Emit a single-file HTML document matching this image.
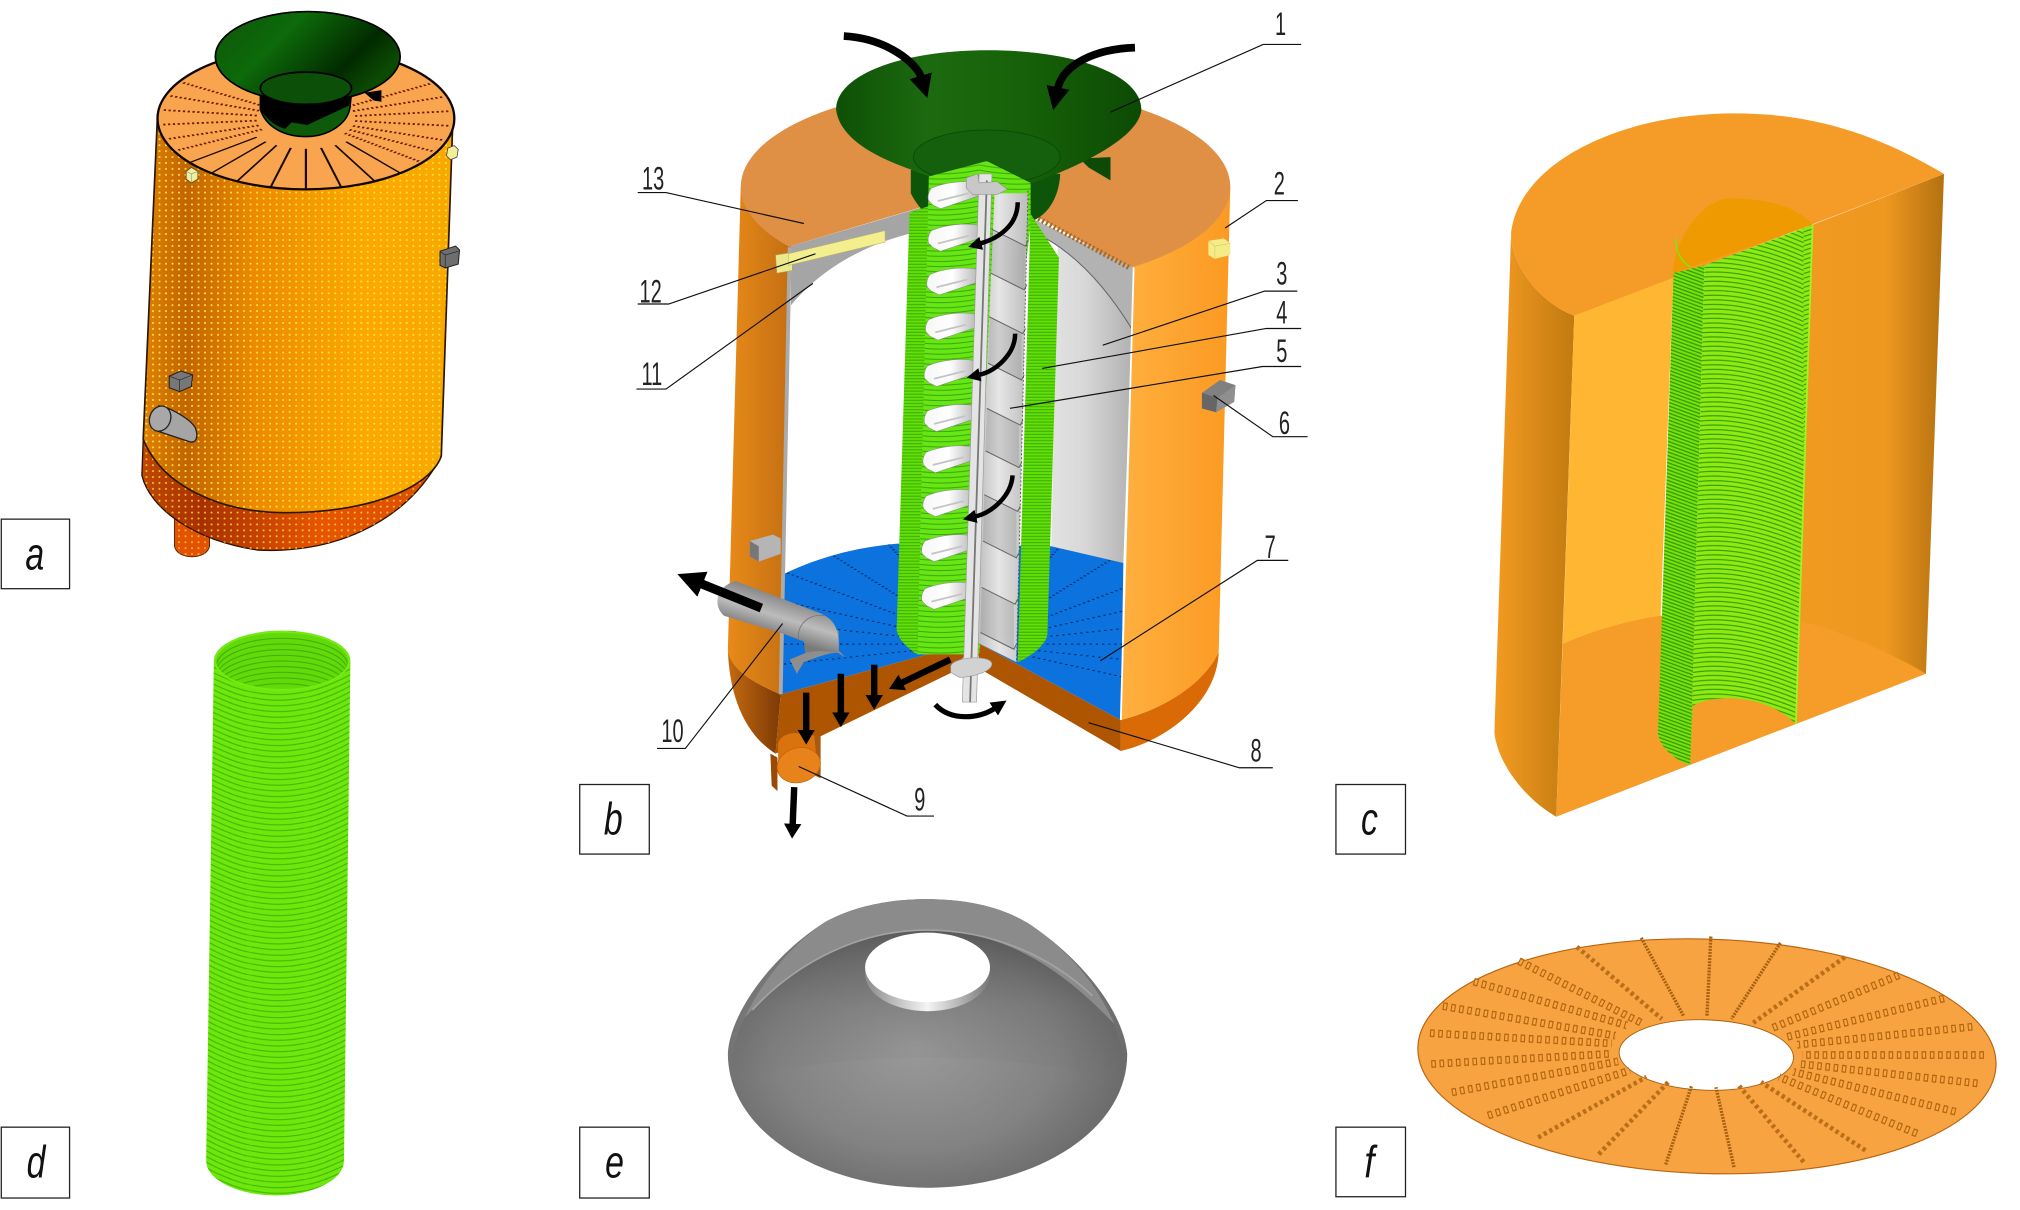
<!DOCTYPE html>
<html><head><meta charset="utf-8"><title>Diagram</title>
<style>html,body{margin:0;padding:0;background:#fff}svg{display:block}
.n{font-family:"Liberation Sans",sans-serif;font-size:25px;fill:#222;text-anchor:middle}
.l{font-family:"Liberation Sans",sans-serif;font-style:italic;font-size:35px;fill:#111;text-anchor:middle}
.ld{fill:none;stroke:#111;stroke-width:.9}
.box{fill:#fff;stroke:#222;stroke-width:1}
</style></head><body>
<svg xmlns="http://www.w3.org/2000/svg" width="2020" height="1210" viewBox="0 0 1568 939.3" preserveAspectRatio="none">
<defs>
<marker id="ah" markerWidth="3" markerHeight="3" refX="0.2" refY="1.5" orient="auto" viewBox="0 0 3 3"><path d="M0,0L3,1.5L0,3Z" fill="#000"/></marker>
<marker id="ah2" markerWidth="2.3" markerHeight="2.7" refX="0.1" refY="1.35" orient="auto" viewBox="0 0 2.3 2.7"><path d="M0,0L2.3,1.35L0,2.7Z" fill="#000"/></marker>
<pattern id="dots" width="5" height="4.6" patternUnits="userSpaceOnUse"><circle cx="2.5" cy="2.3" r=".8" fill="#ffe63a"/></pattern>
<linearGradient id="abody"><stop offset="0" stop-color="#e08204"/><stop offset=".14" stop-color="#c26400"/><stop offset=".36" stop-color="#ec8a00"/><stop offset=".72" stop-color="#fda800"/><stop offset="1" stop-color="#f8a800"/></linearGradient>
<linearGradient id="aband"><stop offset="0" stop-color="#c04800"/><stop offset=".2" stop-color="#a83000"/><stop offset=".6" stop-color="#e85500"/><stop offset="1" stop-color="#d84e00"/></linearGradient>
<linearGradient id="hop"><stop offset="0" stop-color="#0e5006"/><stop offset=".3" stop-color="#1c6a10"/><stop offset=".6" stop-color="#176209"/><stop offset="1" stop-color="#0c4a04"/></linearGradient>
<linearGradient id="hopa" x1="0" y1="0" x2="1" y2=".5"><stop offset="0" stop-color="#0d5508"/><stop offset=".4" stop-color="#0d6a0a"/><stop offset=".8" stop-color="#022a00"/><stop offset="1" stop-color="#0c4a04"/></linearGradient>
<linearGradient id="lw"><stop offset="0" stop-color="#e88a18"/><stop offset="1" stop-color="#a85a10"/></linearGradient>
<linearGradient id="lb"><stop offset="0" stop-color="#c56a10"/><stop offset="1" stop-color="#7c3a05"/></linearGradient>
<linearGradient id="rw"><stop offset="0" stop-color="#ffb040"/><stop offset="1" stop-color="#fb9a22"/></linearGradient>
<linearGradient id="grey"><stop offset="0" stop-color="#e2e2e2"/><stop offset=".4" stop-color="#d8d8d8"/><stop offset="1" stop-color="#b0b0b0"/></linearGradient>
<linearGradient id="blade"><stop offset="0" stop-color="#b8b8b8"/><stop offset=".45" stop-color="#e6e6e6"/><stop offset="1" stop-color="#bcbcbc"/></linearGradient>
<linearGradient id="pipe" gradientUnits="userSpaceOnUse" x1="600" y1="458" x2="590" y2="490"><stop offset="0" stop-color="#7e7e7e"/><stop offset=".55" stop-color="#bcbcbc"/><stop offset="1" stop-color="#7a7a7a"/></linearGradient>
<linearGradient id="pet"><stop offset="0" stop-color="#f6f6f6"/><stop offset=".5" stop-color="#fff"/><stop offset="1" stop-color="#b8b8b8"/></linearGradient>
<linearGradient id="cl"><stop offset="0" stop-color="#f39b22"/><stop offset="1" stop-color="#c27a0f"/></linearGradient>
<linearGradient id="cr"><stop offset="0" stop-color="#f19a20"/><stop offset=".6" stop-color="#ee9820"/><stop offset="1" stop-color="#b57110"/></linearGradient>
<linearGradient id="rim"><stop offset="0" stop-color="#8a8a8a"/><stop offset=".5" stop-color="#f5f5f5"/><stop offset="1" stop-color="#777"/></linearGradient>
<radialGradient id="dome" cx=".47" cy=".52" r=".64"><stop offset="0" stop-color="#999"/><stop offset=".55" stop-color="#828282"/><stop offset="1" stop-color="#5e5e5e"/></radialGradient>
<linearGradient id="domet" x1="0" y1="0" x2="0" y2="1"><stop offset="0" stop-color="#000" stop-opacity=".26"/><stop offset=".5" stop-color="#000" stop-opacity=".08"/><stop offset="1" stop-color="#000" stop-opacity="0"/></linearGradient>
<pattern id="gs" width="60" height="4" patternUnits="userSpaceOnUse" x="700"><rect width="60" height="4" fill="#66e612"/><path d="M0,-4Q30,2 60,-4M0,0Q30,6 60,0M0,4Q30,10 60,4" fill="none" stroke="#3aa20a" stroke-width=".7"/></pattern>
<pattern id="gd" width="20" height="2.4" patternUnits="userSpaceOnUse"><rect width="20" height="2.4" fill="#62e008"/><path d="M0,1.2H20" stroke="#3fb000" stroke-width=".8"/></pattern>
<pattern id="cs" width="100" height="3.6" patternUnits="userSpaceOnUse" x="1300"><rect width="100" height="3.6" fill="#8eea12"/><path d="M0,-10.8q40,-14 100,12M0,-7.2q40,-14 100,12M0,-3.6q40,-14 100,12M0,0q40,-14 100,12M0,3.6q40,-14 100,12M0,7.2q40,-14 100,12M0,10.8q40,-14 100,12M0,14.4q40,-14 100,12" fill="none" stroke="#339e00" stroke-width=".9"/></pattern>
<pattern id="cd" width="30" height="2.6" patternUnits="userSpaceOnUse" patternTransform="rotate(20)"><rect width="30" height="2.6" fill="#78e20a"/><path d="M0,1.3H30" stroke="#2f9400" stroke-width="1"/></pattern>
<pattern id="ds" width="112" height="4.4" patternUnits="userSpaceOnUse" x="160"><rect width="112" height="4.4" fill="#6ee80c"/><path d="M0,-17.6Q56,14 112,-17.6M0,-13.2Q56,18 112,-13.2M0,-8.8Q56,23 112,-8.8M0,-4.4Q56,27 112,-4.4M0,0Q56,32 112,0M0,4.4Q56,36 112,4.4" fill="none" stroke="#46b802" stroke-width=".9"/></pattern>
<clipPath id="floor"><path d="M606,539L607.5,446C630,435,660,425,697,422L816,424C840,426,860,432,872,437L870,559L757,498Z"/></clipPath>
<clipPath id="dtop"><ellipse cx="219" cy="513" rx="51" ry="21.5"/></clipPath>
<clipPath id="disc"><path d="M500,0H1000V300L880,210L765,146L614,191L500,300Z"/></clipPath>
<g id="petal"><path d="M760,-11C750,-13,735,-12,723,-7C720,-3,720,1,721,3L724,6L730,9L760,-1Z" fill="url(#pet)" stroke="#8a8a8a" stroke-width=".4"/><path d="M728,3L752,-3" stroke="#c4c4c4" stroke-width="1.4"/></g>
<g id="fch">
<path d="M1474,757L1376,798"/><path d="M1509,775L1387,805"/><path d="M1531,797L1395,811"/><path d="M1540,819L1399,819"/><path d="M1535,841L1398,826"/><path d="M1518,863L1392,832"/><path d="M1488,880L1381,836"/>
<path d="M1155,866L1265,831"/><path d="M1127,848L1256,824"/><path d="M1111,826L1251,818"/><path d="M1110,802L1251,810"/><path d="M1120,781L1254,804"/><path d="M1144,762L1263,796"/><path d="M1179,746L1274,794"/>
</g>
</defs>
<rect width="1568" height="939.3" fill="#fff"/>

<!-- PANEL A -->
<g transform="scale(1.0105,1)">
<path d="M134,402L134,424C136,435,159,435,161,424L161,410Z" fill="#e25200" stroke="#3a1500" stroke-width=".6"/>
<path d="M134,402L134,424C136,435,159,435,161,424L161,410Z" fill="url(#dots)" opacity=".7"/>
<path d="M109,369C115,395,150,420,198,427C250,430,310,410,339,354L320,340L110,341Z" fill="url(#aband)" stroke="#2a1000" stroke-width="1"/>
<path d="M109,369C115,395,150,420,198,427C250,430,310,410,339,354L320,340L110,341Z" fill="url(#dots)" opacity=".8"/>
<path d="M121,89L110,341C125,378,170,398,220,398C280,398,330,380,339,354L348,89Z" fill="url(#abody)"/>
<path d="M121,89L110,341C125,378,170,398,220,398C280,398,330,380,339,354L348,89Z" fill="url(#dots)"/>
<path d="M121,89L110,341M348,89L339,354M110,341C125,378,170,398,220,398C280,398,330,380,339,354" fill="none" stroke="#2b1600" stroke-width="1.3"/>
<ellipse cx="235" cy="92" rx="114" ry="55" fill="#f9a550" stroke="#0f0800" stroke-width="1.8"/>
<g transform="translate(235,92) scale(1,.49)" fill="none">
<g stroke="#1a0a00" stroke-width="1.7">
<line x1="48" x2="112" transform="rotate(90)"/><line x1="48" x2="112" transform="rotate(76)"/><line x1="48" x2="112" transform="rotate(62)"/><line x1="48" x2="112" transform="rotate(50)"/><line x1="48" x2="112" transform="rotate(104)"/><line x1="48" x2="112" transform="rotate(118)"/><line x1="48" x2="112" transform="rotate(130)"/><line x1="48" x2="112" transform="rotate(142)"/>
</g>
<g stroke="#6a1a00" stroke-width="2.8" stroke-dasharray="1.7 2">
<line x1="38" x2="112" transform="rotate(38)"/><line x1="38" x2="112" transform="rotate(28)"/><line x1="38" x2="112" transform="rotate(18)"/><line x1="38" x2="112" transform="rotate(6)"/><line x1="38" x2="112" transform="rotate(-6)"/><line x1="38" x2="112" transform="rotate(-18)"/><line x1="38" x2="112" transform="rotate(-30)"/>
<line x1="38" x2="112" transform="rotate(153)"/><line x1="38" x2="112" transform="rotate(163)"/><line x1="38" x2="112" transform="rotate(175)"/><line x1="38" x2="112" transform="rotate(187)"/><line x1="38" x2="112" transform="rotate(199)"/><line x1="38" x2="112" transform="rotate(211)"/>
</g></g>
<path d="M200,72L200,85C205,100,220,106,235,106C252,106,268,96,269,82L270,72Z" fill="#0f5a0a" stroke="#000" stroke-width="1.2"/>
<path d="M200,72L200,85C205,93,212,98,219,100L224,95L236,97L268,82L270,72Z" fill="#000"/>
<path d="M280,72L293,70L293,79L287,78Z" fill="#000"/>
<ellipse cx="236.4" cy="44" rx="71" ry="35" fill="url(#hopa)" stroke="#000" stroke-width="1.3"/>
<ellipse cx="235" cy="68.5" rx="35" ry="12.5" fill="#0c4f08" stroke="#000" stroke-width="1.3"/>
<path d="M143,133L147,130L152,133L152,139L147,142L143,139Z" fill="#f1ef9a" stroke="#444" stroke-width=".6"/>
<path d="M143,133L147,135L152,133M147,135V142" fill="none" stroke="#888" stroke-width=".4"/>
<path d="M344,115L349,113L352,116L351,122L346,124L343,121Z" fill="#f1ef9a" stroke="#444" stroke-width=".6"/>
<path d="M338,195L350,191L353,194L352,205L342,208L338,206Z" fill="#6e6e6e" stroke="#222" stroke-width=".8"/>
<path d="M338,195L342,198L352,195M342,198V208" fill="none" stroke="#222" stroke-width=".5"/>
<path d="M130,292L139,288L148,291L147,300L138,304L130,301Z" fill="#777" stroke="#222" stroke-width=".8"/>
<path d="M130,292L138,295L148,291M138,295V304" fill="none" stroke="#222" stroke-width=".5"/>
<path d="M122,315C130,316,146,325,150,332C153,340,150,344,146,343L122,335Z" fill="#a5a5a5" stroke="#222"/>
<ellipse cx="123" cy="325" rx="8" ry="10" transform="rotate(20 123 325)" fill="#a8a8a8" stroke="#222"/>
</g>
<rect class="box" x="1" y="403" width="53" height="54"/>
<text class="l" transform="translate(27,442) scale(.75,1)">a</text>

<!-- PANEL B -->
<path d="M565,504C566,540,578,570,602,585L606,539C585,530,567,520,565,504Z" fill="url(#lb)"/>
<path d="M575,145L650,145L614,191L606,539C585,530,567,520,565,504Z" fill="url(#lw)"/>
<path d="M946,506C945,545,905,575,870,583L870,559C905,550,935,530,946,506Z" fill="#d96a05"/>
<path d="M880,208L900,145L955,145L946,506C935,530,905,550,870,559Z" fill="url(#rw)"/>
<ellipse cx="765" cy="145" rx="190" ry="78" fill="#e09045" clip-path="url(#disc)"/>
<path d="M606,539L607.5,446C630,435,660,425,697,422L816,424C840,426,860,432,872,437L870,559L757,498Z" fill="#0c72de"/>
<g clip-path="url(#floor)"><g transform="translate(757,500) scale(1,.42)" stroke="#06306e" stroke-width="2.2" stroke-dasharray="1.8 3" fill="none">
<line x1="12" x2="200" transform="rotate(0)"/><line x1="12" x2="200" transform="rotate(14)"/><line x1="12" x2="200" transform="rotate(28)"/><line x1="12" x2="200" transform="rotate(-14)"/><line x1="12" x2="200" transform="rotate(-28)"/><line x1="12" x2="200" transform="rotate(-42)"/><line x1="12" x2="200" transform="rotate(-56)"/><line x1="12" x2="200" transform="rotate(-70)"/><line x1="12" x2="200" transform="rotate(-110)"/><line x1="12" x2="200" transform="rotate(-124)"/><line x1="12" x2="200" transform="rotate(-138)"/><line x1="12" x2="200" transform="rotate(-152)"/><line x1="12" x2="200" transform="rotate(-166)"/><line x1="12" x2="200" transform="rotate(180)"/><line x1="12" x2="200" transform="rotate(166)"/>
</g></g>
<path d="M821,190L880,208L872,437L816,424Z" fill="url(#grey)"/>
<path d="M802,170L880,208L879,256C860,225,835,195,802,180Z" fill="#b2b2b2"/>
<path d="M802,180C835,195,860,225,879,256" fill="none" stroke="#666" stroke-width=".8"/>
<path d="M803,168L877,208" stroke="#a86a28" stroke-width="4" stroke-dasharray="1.6 1.8"/>
<path d="M880,208L870,559" stroke="#fff" stroke-width="1.4"/>
<path d="M614,191L719,160L717,179C680,186,640,205,614,237Z" fill="#a5a5a5"/>
<path d="M613,192L606,539" stroke="#aaa" stroke-width="3"/>
<path d="M602,198L615,196L615,210L603,212Z" fill="#ece88c" stroke="#a9a360" stroke-width=".4"/>
<path d="M612,197L687,179L687,188L612,206Z" fill="#f3ee8e" stroke="#b9b36a" stroke-width=".4"/>
<path d="M606,539L757,498L739,522L636,572L602,585Z" fill="#ad5500"/>
<path d="M757,498L870,559L870,583L762,520Z" fill="#ad5500"/>

<!-- cubes -->
<path d="M938,187L950,185L955,189L955,198L943,201L938,198Z" fill="#f3ec88"/>
<path d="M943,191L955,189M943,191V201M943,191L938,187" fill="none" stroke="#d4cc60" stroke-width=".5"/>
<path d="M933,305L947,295L959,299L958,312L944,320L933,317Z" fill="#808080"/>
<path d="M933,305L945,309L944,320L933,317Z" fill="#666"/>
<path d="M945,309L959,299L958,312L944,320Z" fill="#8f8f8f"/>

<!-- hopper b -->
<path d="M838,123L862,122L862,140L845,130Z" fill="#0c4a06"/>
<path d="M707,132L707,150C712,160,718,166,726,172L800,172C812,168,822,155,823,135Z" fill="#0d5508"/>
<path d="M649,85C649,58,700,39,767,39C835,39,886,58,886,85C884,108,835,130,802,142C770,146,730,142,708,132C680,122,652,108,649,85Z" fill="url(#hop)"/>
<ellipse cx="766" cy="122" rx="57" ry="21" fill="#14600c" stroke="#0c4a06" stroke-width=".7"/>

<!-- central tube -->
<path d="M706,165L721,160L712,508C704,503,696,495,696,488Z" fill="url(#gd)"/>
<path d="M721,137L766,125L800,142L800,175L760,508L712,508Z" fill="url(#gs)"/>
<path d="M800,166L822,200L813,493C812,500,800,510,790,514Z" fill="url(#gd)"/>
<path d="M772,150L798,150L789,514L757,498Z" fill="url(#blade)"/>
<g fill="#000" opacity=".1">
<path d="M770,178L796,191L795,225L769,212Z"/><path d="M768,246L793,259L793,295L767,282Z"/><path d="M766,317L791,330L791,363L765,350Z"/><path d="M764,384L789,397L789,433L763,420Z"/><path d="M762,456L787,469L787,504L761,491Z"/>
</g>
<g fill="none" stroke="#666" stroke-width=".8">
<path d="M770,178L796,191L798,187M769,212L795,225L797,221M768,246L794,259L796,255M767,282L793,295L795,291M766,317L792,330L794,326M765,350L791,363L793,359M764,384L790,397L792,393M763,420L789,433L791,429M762,456L788,469L790,465M761,491L787,504L789,500"/>
</g>
<path d="M798,148L789,514" stroke="#555" stroke-width=".7" stroke-dasharray="1.5 1.5"/>
<use href="#petal" transform="translate(0,153)"/><use href="#petal" transform="translate(0,186)"/><use href="#petal" transform="translate(-1,220)"/><use href="#petal" transform="translate(-2,255)"/><use href="#petal" transform="translate(-3,291)"/><use href="#petal" transform="translate(-3,326)"/><use href="#petal" transform="translate(-4,358)"/><use href="#petal" transform="translate(-4,392)"/><use href="#petal" transform="translate(-5,427)"/><use href="#petal" transform="translate(-5,464)"/>
<path d="M760,135L770,135L758,545L747,545Z" fill="#e4e4e4" stroke="#999" stroke-width=".5"/>
<path d="M766,140L753,545" stroke="#777" stroke-width="1.4"/>
<path d="M750,138L759,135L760,142L774,141L782,147L774,151L755,151L750,146Z" fill="#c8c8c8" stroke="#888" stroke-width=".4"/>
<path d="M738,517C740,510,768,508,770,515C770,522,755,525,745,526L738,522Z" fill="#d2d2d2" stroke="#999" stroke-width=".5"/>

<!-- bottom pipe -->
<path d="M598,585L603.5,588L603.5,614L599,610Z" fill="#9a4a05"/>
<path d="M630,571L637,571L637,604L630,601Z" fill="#a85a10"/>
<path d="M604,598L604,577C606,571,612,569,618,569L632,571L634,590L612,606Z" fill="#d9730e"/>
<ellipse cx="620" cy="594" rx="17" ry="13.5" transform="rotate(-15 620 594)" fill="#e8821a" stroke="#bb6008" stroke-width=".5"/>
<!-- grey cube -->
<path d="M582,420L600,415L606,418L606,430L589,436L582,432Z" fill="#b5b5b5"/>
<path d="M582,420L589,424L589,436L582,432Z" fill="#777"/>
<!-- pipe 10 -->
<path d="M625,498L625,507L613,512L618.5,523L624,514C635,510,645,506,651,507L657,511L651,505L651,489Z" fill="#8e8e8e"/>
<path d="M571,451L634,475C648,480,652,488,651,507C640,505,632,505,625,507L624,498L608,492L562,478C553,470,556,455,571,451Z" fill="url(#pipe)"/>
<path d="M620,497C618,485,628,476,640,478" fill="none" stroke="#777" stroke-width=".7"/>
<!-- arrows -->
<g fill="none" stroke="#000">
<path d="M655,28C690,30,712,50,715,60" stroke-width="6" marker-end="url(#ah)"/>
<path d="M881,37C850,38,825,50,821,69" stroke-width="6" marker-end="url(#ah)"/>
<path d="M790,157C790,175,775,185,761,189" stroke-width="3.5" marker-end="url(#ah)"/>
<path d="M788,259C788,275,773,288,760,291" stroke-width="3.5" marker-end="url(#ah)"/>
<path d="M786,369C785,385,770,398,757,401" stroke-width="3.5" marker-end="url(#ah)"/>
<path d="M625.8,537.7V567" stroke-width="5" marker-end="url(#ah2)"/>
<path d="M652.7,523V553.5" stroke-width="5" marker-end="url(#ah2)"/>
<path d="M678.6,516V540" stroke-width="5" marker-end="url(#ah2)"/>
<path d="M737.6,512L700,530" stroke-width="5" marker-end="url(#ah2)"/>
<path d="M616.5,611L615.3,640" stroke-width="5" marker-end="url(#ah2)"/>
<path d="M591,472L544,453" stroke-width="7" marker-end="url(#ah)"/>
<path d="M726,547C738,560,760,558,772,550" stroke-width="4" marker-end="url(#ah)"/>
</g>
<!-- leaders -->
<g class="ld">
<path class="ld" d="M1010,34.5H980.5L862,87"/><path class="ld" d="M1007.5,155.7H983L951,177"/>
<path class="ld" d="M1007,226H981.6L856,268"/><path class="ld" d="M1010,255H983L809,286"/>
<path class="ld" d="M1010,284.5H980L784,317"/><path class="ld" d="M1015,339H988L942,307"/>
<path class="ld" d="M1000,435H976L854,513"/><path class="ld" d="M988,596H962L845,561"/>
<path class="ld" d="M725,633.5H704L620,595"/><path class="ld" d="M510,581H532L607.5,484"/>
<path class="ld" d="M494,302H517L631,220"/><path class="ld" d="M495,236H519L633,197"/>
<path class="ld" d="M495,149.5H517L624,173.5"/>
</g>
<g class="numbers">
<text class="n" transform="translate(994,27) scale(.62,1)">1</text>
<text class="n" transform="translate(993,151) scale(.62,1)">2</text>
<text class="n" transform="translate(995,221) scale(.62,1)">3</text>
<text class="n" transform="translate(995,251) scale(.62,1)">4</text>
<text class="n" transform="translate(995,281) scale(.62,1)">5</text>
<text class="n" transform="translate(997,337) scale(.62,1)">6</text>
<text class="n" transform="translate(986,433) scale(.62,1)">7</text>
<text class="n" transform="translate(975,591) scale(.62,1)">8</text>
<text class="n" transform="translate(714,629) scale(.62,1)">9</text>
<text class="n" transform="translate(522,576) scale(.62,1)">10</text>
<text class="n" transform="translate(506,299) scale(.62,1)">11</text>
<text class="n" transform="translate(505,235) scale(.62,1)">12</text>
<text class="n" transform="translate(507,147) scale(.62,1)">13</text>
</g>
<rect class="box" x="450" y="609" width="54" height="54"/>
<text class="l" transform="translate(476,648) scale(.75,1)">b</text>

<!-- PANEL C -->
<path d="M1173,180L1160,569C1163,594,1185,621,1208,634L1222,245C1195,235,1172,205,1173,180Z" fill="url(#cl)"/>
<path d="M1407,174.5L1509,135L1495,523L1394,482L1394,562Z" fill="url(#cr)"/>
<path d="M1222,245L1299,212L1289,479L1213,500Z" fill="#ffb733"/>
<path d="M1213,500C1235,490,1262,482,1289,478L1397,482C1430,490,1470,508,1495,523L1208,634Z" fill="#f59d28"/>
<path d="M1222,245L1509,135C1450,100,1400,88,1346,88C1260,88,1180,125,1173,180C1172,205,1195,235,1222,245Z" fill="#f59c28"/>
<path d="M1299,212C1298,190,1320,154,1343,154C1370,154,1395,160,1407,174.5Z" fill="#ee9a00"/>
<path d="M1301,185C1300,195,1306,204,1312,207" fill="none" stroke="#7fe60e" stroke-width="1.2"/>
<path d="M1323,206L1407,174.5L1394,562C1380,548,1360,542,1343,542C1330,542,1320,544,1314,548L1312,594Z" fill="url(#cs)"/>
<path d="M1299,212L1323,206L1312,594C1300,590,1288,580,1287,569Z" fill="url(#cd)"/>
<path d="M1407,174.5L1394,562" stroke="#a4f020" stroke-width="1.4"/>
<rect class="box" x="1037" y="609" width="54" height="54"/>
<text class="l" transform="translate(1063,648) scale(.75,1)">c</text>

<!-- PANEL D -->
<path d="M166,513L160,901C160,916,185,928,214,928C243,928,267,916,267,901L272,513A53,23.5 0 0 0 166,513Z" fill="url(#ds)"/>
<ellipse cx="219" cy="513" rx="52" ry="22.5" fill="#62da0a" stroke="#74ea12" stroke-width="1.5"/>
<g clip-path="url(#dtop)" fill="none" stroke="#44b202" stroke-width=".9">
<ellipse cx="219" cy="517" rx="51" ry="21.5"/><ellipse cx="219" cy="521.4" rx="51" ry="21.5"/><ellipse cx="219" cy="525.8" rx="51" ry="21.5"/><ellipse cx="219" cy="530.2" rx="51" ry="21.5"/><ellipse cx="219" cy="534.6" rx="51" ry="21.5"/><ellipse cx="219" cy="539" rx="51" ry="21.5"/><ellipse cx="219" cy="543.4" rx="51" ry="21.5"/><ellipse cx="219" cy="547.8" rx="51" ry="21.5"/><ellipse cx="219" cy="552.2" rx="51" ry="21.5"/>
</g>
<rect class="box" x="1" y="875" width="53" height="55"/>
<text class="l" transform="translate(28,914) scale(.75,1)">d</text>

<!-- PANEL E -->
<path d="M565,818C566,790,595,745,640,716C665,702,695,698,719,698C745,698,775,702,800,718C840,745,872,785,875,818C875,880,800,922,719,922C640,922,565,880,565,818Z" fill="url(#dome)"/>
<path d="M578,790C620,745,670,722,719,722C770,722,815,742,865,795C872,815,875,830,868,840C800,815,640,815,572,840C565,830,568,810,578,790Z" fill="url(#domet)"/>
<path d="M578,790C592,762,612,735,640,716C665,702,695,698,719,698C745,698,775,702,800,718C825,735,850,760,865,795C815,742,770,722,719,722C670,722,620,745,578,790Z" fill="#8b8b8b"/>
<path d="M584,784C620,745,670,722,719,722C770,722,815,742,848,773" fill="none" stroke="#a3a3a3" stroke-width="1.3"/>
<ellipse cx="720" cy="756" rx="48.5" ry="29" fill="url(#rim)"/>
<ellipse cx="720" cy="751" rx="48.5" ry="27" fill="#fff"/>
<rect class="box" x="450" y="875" width="54" height="55"/>
<text class="l" transform="translate(477,914) scale(.75,1)">e</text>

<!-- PANEL F -->
<ellipse cx="1325" cy="820" rx="224.5" ry="91" transform="rotate(1.8 1325 820)" fill="#f7a342" stroke="#b9640f" stroke-width=".9"/>
<ellipse cx="1324.5" cy="819" rx="67.7" ry="27.3" transform="rotate(2 1324.5 819)" fill="#fff" stroke="#a9600f" stroke-width=".7"/>
<g fill="none" stroke="#a8600f" stroke-width="2.6" stroke-dasharray="1.5 .9">
<path d="M1328,727L1325,789"/><path d="M1382,732L1344,791"/><path d="M1274,728L1307,789"/><path d="M1293,904L1313,843"/><path d="M1346,906L1332,844"/>
</g>
<g fill="none" stroke="#bb6e18" stroke-width="3.6" stroke-dasharray="2.6 2.4">
<path d="M1432,743L1361,794"/><path d="M1224,735L1290,791"/><path d="M1241,896L1295,840"/><path d="M1400,902L1350,843"/><path d="M1194,883L1278,836"/><path d="M1448,893L1367,840"/>
</g>
<g fill="none" stroke="#b5660f" stroke-width="6" stroke-dasharray="3.6 2.8"><use href="#fch"/></g>
<g fill="none" stroke="#f9a844" stroke-width="4" stroke-dasharray="1.8 4.6" stroke-dashoffset="-.9"><use href="#fch"/></g>
<rect class="box" x="1037" y="875" width="54" height="54"/>
<text class="l" transform="translate(1063,914) scale(.8,1)">f</text>
</svg>
</body></html>
